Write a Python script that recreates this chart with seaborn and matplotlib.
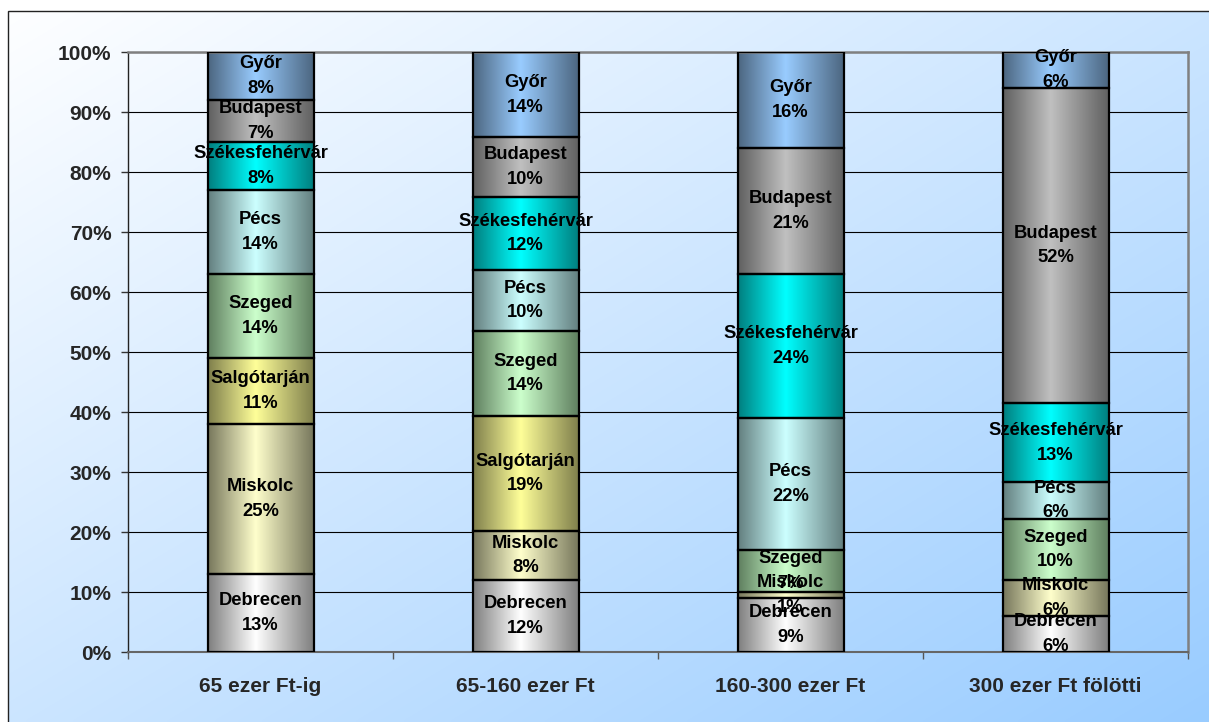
import numpy as np
import matplotlib
matplotlib.use("Agg")
import matplotlib.pyplot as plt
import seaborn as sns
from matplotlib.colors import to_rgb
from matplotlib.patches import Rectangle

# ---- data -------------------------------------------------------------
categories = ["65 ezer Ft-ig", "65-160 ezer Ft", "160-300 ezer Ft", "300 ezer Ft fölötti"]
cities = ["Debrecen", "Miskolc", "Salgótarján", "Szeged", "Pécs",
          "Székesfehérvár", "Budapest", "Győr"]

debrecen = [13.0, 12.0, 9.0, 6.0]
miskolc = [25.0, 8.2, 1.0, 6.0]
salgotarjan = [11.0, 19.1, 0.0, 0.0]
szeged = [14.0, 14.2, 7.0, 10.2]
pecs = [14.0, 10.2, 22.0, 6.1]
szekesfehervar = [8.0, 12.1, 24.0, 13.2]
budapest = [7.0, 10.0, 21.0, 52.5]
gyor = [8.0, 14.2, 16.0, 6.0]

series = [debrecen, miskolc, salgotarjan, szeged, pecs, szekesfehervar, budapest, gyor]

y_ticks = [0, 10, 20, 30, 40, 50, 60, 70, 80, 90, 100]
y_tick_labels = [f"{v}%" for v in y_ticks]

# ---- styling ----------------------------------------------------------
light_colors = ["#FFFFFF", "#FFFFCC", "#FFFF99", "#CCFFCC", "#CCFFFF",
                "#00FFFF", "#C0C0C0", "#99CCFF"]
dark_colors = ["#7F7F7F", "#77775C", "#7F7F4C", "#5F7F5F", "#637F7F",
               "#007F7F", "#606060", "#4C6680"]

sns.set_theme(style="white")
plt.rcParams["font.family"] = ["Liberation Sans", "DejaVu Sans"]
plt.rcParams["font.weight"] = "bold"

W, H, DPI = 1209, 722, 100
fig = plt.figure(figsize=(W / DPI, H / DPI), dpi=DPI)
fig.patch.set_facecolor("white")

# diagonal background wash: white top-left -> light blue bottom-right
bg = fig.add_axes([0, 0, 1, 1], zorder=0)
bg.set_axis_off()
u = np.linspace(0, 1, 300)[None, :]
v = np.linspace(0, 1, 200)[:, None]
t = np.clip(0.5 * (u + v), 0, 1)[..., None]
c0 = np.array(to_rgb("#FFFFFF"))
c1 = np.array(to_rgb("#99CCFF"))
bg.imshow(c0 * (1 - t) + c1 * t, extent=(0, 1, 0, 1), aspect="auto",
          interpolation="bilinear")
bg.set_xlim(0, 1)
bg.set_ylim(0, 1)
# outer white margin and chart border
bg.add_patch(Rectangle((0, 1 - 11 / H), 1, 11 / H, color="white", lw=0))
bg.add_patch(Rectangle((0, 0), 8 / W, 1, color="white", lw=0))
bg.add_patch(Rectangle((8 / W, -0.05), 1.2, 1.05 - 11 / H, fill=False,
                       edgecolor="#222222", lw=1.0))

ax = fig.add_axes([128 / W, 1 - 652 / H, (1188 - 128) / W, (652 - 52) / H], zorder=1)
ax.patch.set_alpha(0)

# ---- stacked bars -----------------------------------------------------
bottom = np.zeros(len(categories))
layers = []
for vals, light in zip(series, light_colors):
    n_before = len(ax.patches)
    sns.barplot(x=categories, y=vals, bottom=bottom.copy(), order=categories,
                color=light, saturation=1, width=0.4, edgecolor="black",
                linewidth=1.6, ax=ax, zorder=3)
    layers.append((ax.patches[n_before:], bottom.copy(), np.array(vals)))
    bottom += np.array(vals)

# shaded fill for every segment: dark at the edges, bright near the middle
xs = np.linspace(0, 1, 200)
peak = 0.45
prof = np.where(xs < peak, (peak - xs) / peak, (xs - peak) / (1 - peak))
for (patches, base, vals), light, dark, city in zip(layers, light_colors, dark_colors, cities):
    lc, dc = np.array(to_rgb(light)), np.array(to_rgb(dark))
    grad = lc[None, None, :] * (1 - prof[None, :, None]) + dc[None, None, :] * prof[None, :, None]
    for p, b, val in zip(patches, base, vals):
        p.set_facecolor("none")
        p.set_zorder(3)
        if val <= 0:
            p.set_visible(False)
            continue
        x0 = p.get_x()
        x1 = x0 + p.get_width()
        ax.imshow(grad, extent=(x0, x1, b, b + val), aspect="auto",
                  interpolation="bilinear", zorder=2)
        ax.text(x0 + p.get_width() / 2, b + val / 2, f"{city}\n{val:.0f}%",
                ha="center", va="center", fontsize=13.2, fontweight="bold",
                color="black", linespacing=1.6, zorder=4)

# ---- axes -------------------------------------------------------------
ax.set_xlim(-0.5, len(categories) - 0.5)
ax.set_ylim(0, 100)
ax.set_yticks(y_ticks)
ax.set_yticklabels(y_tick_labels)
ax.set_xticks(range(len(categories)))
ax.set_xticklabels(categories)
ax.set_xticks(np.arange(-0.5, len(categories), 1.0), minor=True)
ax.set_xlabel("")
ax.set_ylabel("")

ax.yaxis.grid(True, color="black", lw=0.8)
ax.xaxis.grid(False)
ax.set_axisbelow(True)

ax.tick_params(axis="y", which="major", direction="out", length=5, width=1,
               color="#333333", pad=7, labelsize=15, left=True)
ax.tick_params(axis="x", which="major", length=0, pad=18, labelsize=15)
ax.tick_params(axis="x", which="minor", direction="out", length=5, width=1,
               color="#555555", bottom=True)
for lab in ax.get_xticklabels() + ax.get_yticklabels():
    lab.set_fontweight("bold")

for side in ["top", "right"]:
    ax.spines[side].set_visible(True)
    ax.spines[side].set_color("#808080")
    ax.spines[side].set_linewidth(1.8)
ax.spines["bottom"].set_color("#666666")
ax.spines["bottom"].set_linewidth(1.5)
ax.spines["left"].set_color("#222222")
ax.spines["left"].set_linewidth(1.0)

fig.savefig("out.png", dpi=DPI)
